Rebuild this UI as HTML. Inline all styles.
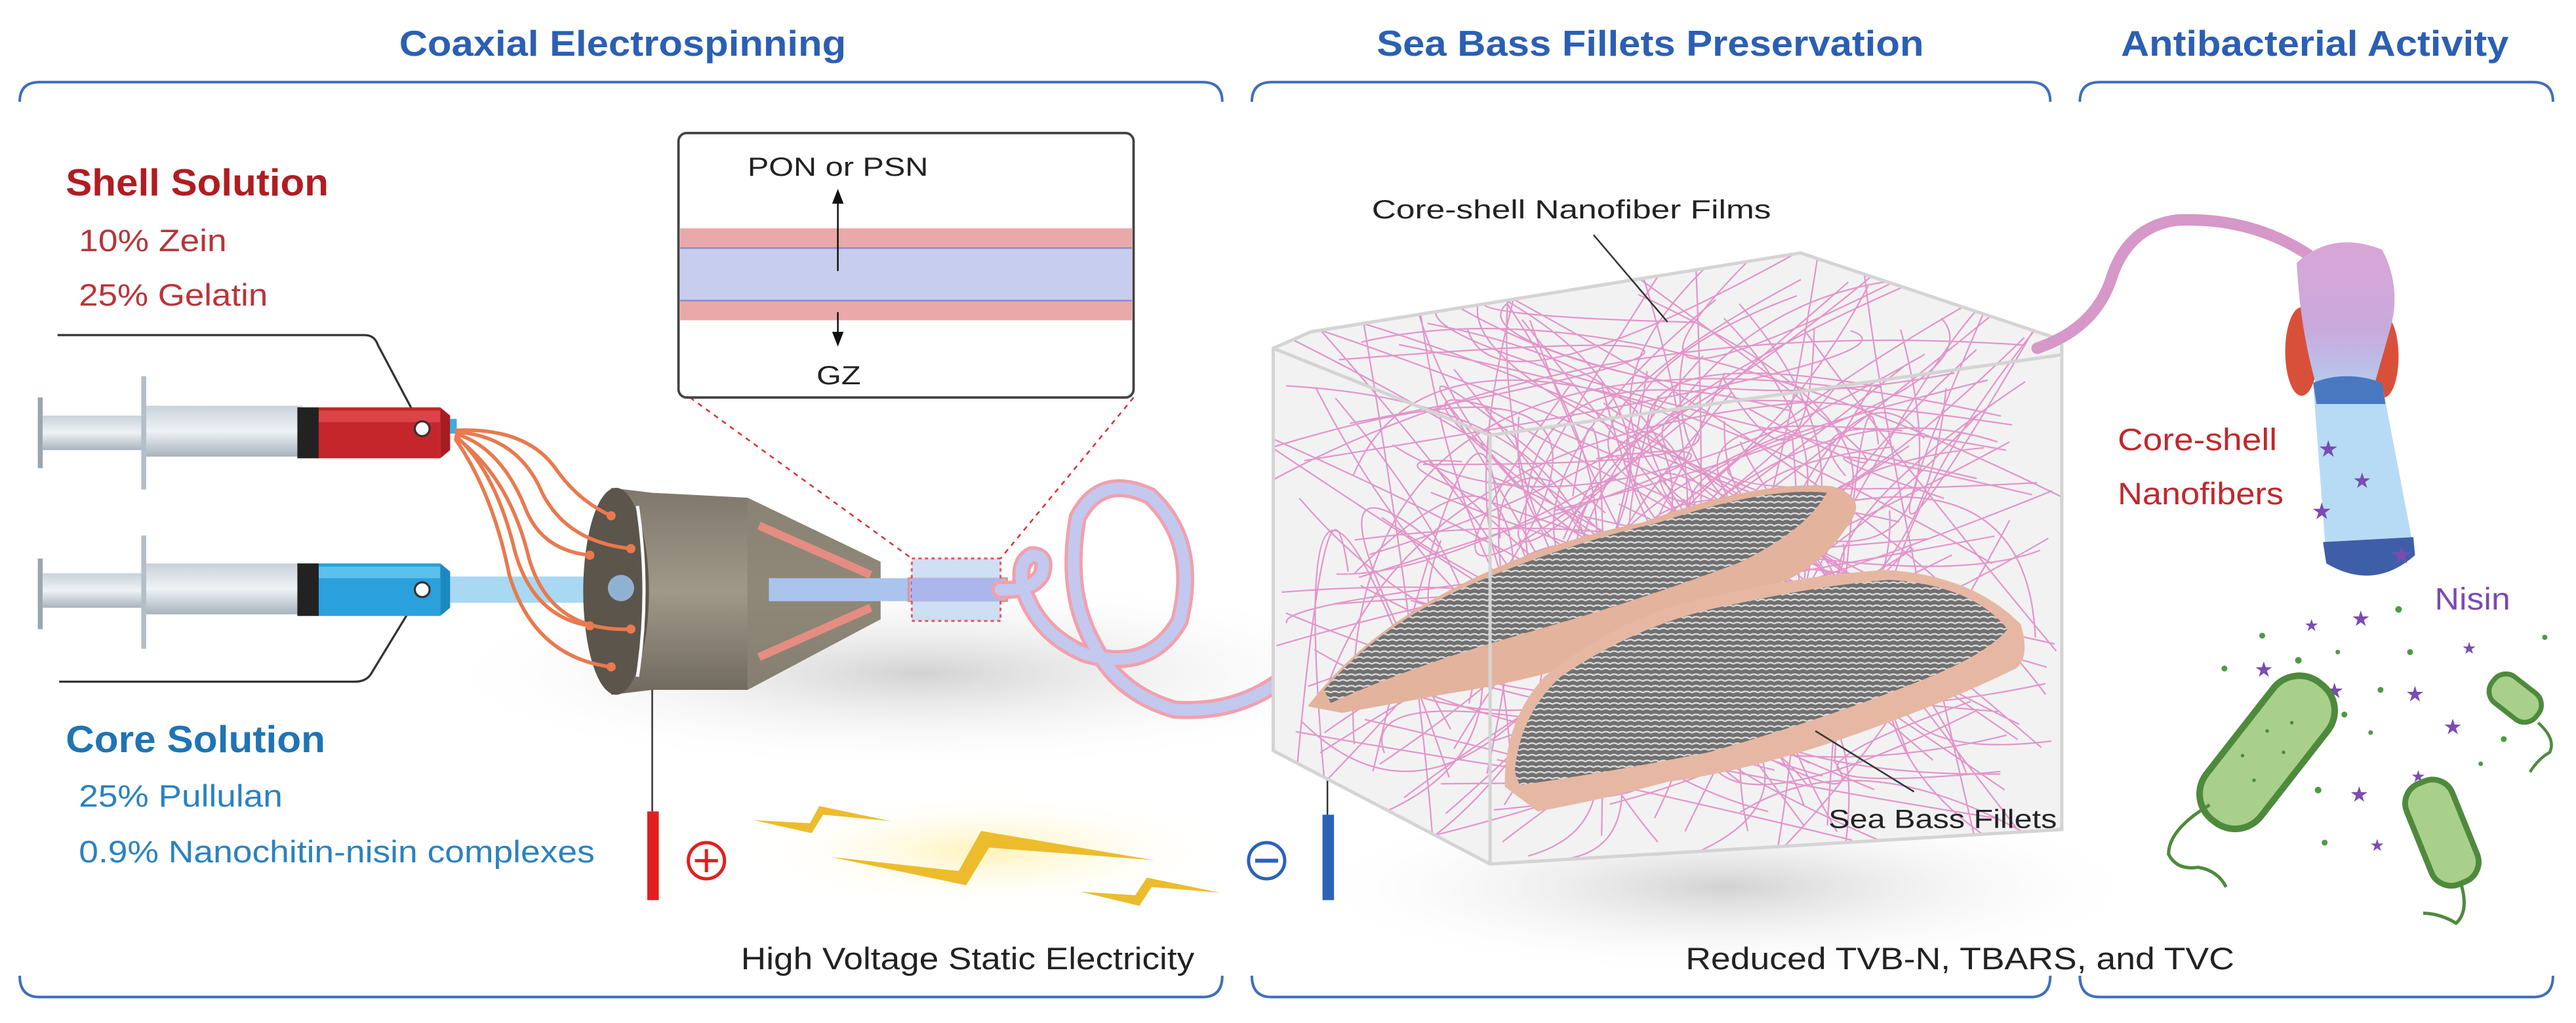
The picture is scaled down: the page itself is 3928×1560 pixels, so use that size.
<!DOCTYPE html>
<html><head><meta charset="utf-8"><style>
html,body{margin:0;padding:0;background:#fff;}
svg{display:block;}
text{font-family:"Liberation Sans",sans-serif;}
</style></head><body>
<svg id="s" width="3928" height="1560" viewBox="0 0 1568 622.8" preserveAspectRatio="none" xmlns="http://www.w3.org/2000/svg">
<defs>
<radialGradient id="shadow" cx="0.5" cy="0.5" r="0.5">
<stop offset="0" stop-color="#cdcdcd" stop-opacity="0.9"/><stop offset="1" stop-color="#fff" stop-opacity="0"/></radialGradient>
<linearGradient id="metal" x1="0" y1="0" x2="0" y2="1"><stop offset="0" stop-color="#7f776b"/><stop offset="0.5" stop-color="#a09888"/><stop offset="1" stop-color="#6f685e"/></linearGradient>
<linearGradient id="syr" x1="0" y1="0" x2="0" y2="1"><stop offset="0" stop-color="#c9d2da"/><stop offset="0.5" stop-color="#eef2f5"/><stop offset="1" stop-color="#a8b3bd"/></linearGradient>
<linearGradient id="nz" x1="0" y1="0" x2="0" y2="1"><stop offset="0" stop-color="#d9a6d6"/><stop offset="0.6" stop-color="#c9a9dc"/><stop offset="1" stop-color="#b4cbee"/></linearGradient>
<radialGradient id="glow" cx="0.5" cy="0.5" r="0.5"><stop offset="0" stop-color="#fff1b0" stop-opacity="0.9"/><stop offset="1" stop-color="#fff" stop-opacity="0"/></radialGradient>
<clipPath id="boxclip"><path d="M775 212 L798 202 L1096 154 L1255 207 L1255 505 L907 526 L775 457 Z"/></clipPath>
<pattern id="scales" width="5" height="3.5" patternUnits="userSpaceOnUse"><rect width="5" height="3.5" fill="#707070"/><path d="M0 1.8 Q2.5 0 5 1.8" stroke="#dedede" stroke-width="0.9" fill="none"/></pattern>
</defs>

<ellipse cx="560" cy="410" rx="300" ry="60" fill="url(#shadow)"/>
<ellipse cx="1050" cy="540" rx="260" ry="55" fill="url(#shadow)"/>

<text x="243" y="34" font-size="22" font-weight="bold" fill="#2b5fb4" textLength="272" lengthAdjust="spacingAndGlyphs">Coaxial Electrospinning</text>
<text x="838" y="34" font-size="22" font-weight="bold" fill="#2b5fb4" textLength="333" lengthAdjust="spacingAndGlyphs">Sea Bass Fillets Preservation</text>
<text x="1291" y="34" font-size="22" font-weight="bold" fill="#2b5fb4" textLength="236" lengthAdjust="spacingAndGlyphs">Antibacterial Activity</text>

<g fill="none" stroke="#3f6fba" stroke-width="1.6">
<path d="M12 62 Q12 50 24 50 L732 50 Q744 50 744 62"/>
<path d="M762 62 Q762 50 774 50 L1236 50 Q1248 50 1248 62"/>
<path d="M1266 62 Q1266 50 1278 50 L1542 50 Q1554 50 1554 62"/>
<path d="M12 594 Q12 607 24 607 L732 607 Q744 607 744 594"/>
<path d="M762 594 Q762 607 774 607 L1236 607 Q1248 607 1248 594"/>
<path d="M1266 594 Q1266 607 1278 607 L1542 607 Q1554 607 1554 594"/>
</g>
<text x="451" y="590" font-size="19" fill="#222" textLength="276" lengthAdjust="spacingAndGlyphs">High Voltage Static Electricity</text>
<text x="1026" y="590" font-size="19" fill="#222" textLength="334" lengthAdjust="spacingAndGlyphs">Reduced TVB-N, TBARS, and TVC</text>

<text x="40" y="119" font-size="23" font-weight="bold" fill="#b11c22" textLength="160" lengthAdjust="spacingAndGlyphs">Shell Solution</text>
<text x="48" y="153" font-size="19" fill="#b9343a" textLength="90" lengthAdjust="spacingAndGlyphs">10% Zein</text>
<text x="48" y="186" font-size="19" fill="#b9343a" textLength="115" lengthAdjust="spacingAndGlyphs">25% Gelatin</text>
<text x="40" y="458" font-size="23" font-weight="bold" fill="#1f74b4" textLength="158" lengthAdjust="spacingAndGlyphs">Core Solution</text>
<text x="48" y="491" font-size="19" fill="#2a82c0" textLength="124" lengthAdjust="spacingAndGlyphs">25% Pullulan</text>
<text x="48" y="525" font-size="19" fill="#2a82c0" textLength="314" lengthAdjust="spacingAndGlyphs">0.9% Nanochitin-nisin complexes</text>
<path d="M35 204 L222 204 Q228 204 230 210 L257 261" fill="none" stroke="#333" stroke-width="1.3"/>
<path d="M257 359 L226 410 Q223 415 216 415 L36 415" fill="none" stroke="#333" stroke-width="1.3"/>

<g>
<rect x="23" y="242" width="3" height="43" fill="#9aa6b0"/>
<rect x="26" y="253" width="62" height="21" fill="url(#syr)"/>
<rect x="86" y="229" width="3" height="69" fill="#b4bec7"/>
<rect x="89" y="247" width="95" height="31" fill="url(#syr)"/>
<rect x="181" y="248" width="13" height="31" fill="#222"/>
<rect x="194" y="248" width="74" height="31" fill="#c4262b"/>
<rect x="194" y="250" width="74" height="7" fill="#dc4449"/>
<path d="M268 248 L274 253 L274 274 L268 279Z" fill="#a81c21"/>
<circle cx="257" cy="261" r="4.5" fill="#fff" stroke="#333" stroke-width="1.3"/>
<rect x="274" y="255" width="4" height="9" fill="#3ab0e0"/>

<rect x="23" y="340" width="3" height="43" fill="#9aa6b0"/>
<rect x="26" y="349" width="62" height="21" fill="url(#syr)"/>
<rect x="86" y="326" width="3" height="69" fill="#b4bec7"/>
<rect x="89" y="343" width="95" height="31" fill="url(#syr)"/>
<rect x="181" y="343" width="13" height="32" fill="#222"/>
<rect x="194" y="343" width="74" height="32" fill="#2aa0dc"/>
<rect x="194" y="345" width="74" height="7" fill="#5cc0ee"/>
<path d="M268 343 L274 348 L274 370 L268 375Z" fill="#1c88c0"/>
<circle cx="257" cy="359" r="4.5" fill="#fff" stroke="#333" stroke-width="1.3"/>
</g>
<rect x="274" y="351" width="90" height="16" fill="#a8d8f2"/>
<path d="M372 297 L397 300 L455 303 L536 342 L536 377 L455 420 L397 420 L372 423 Z" fill="url(#metal)"/>
<path d="M455 303 L536 342 L536 377 L455 420 Z" fill="#8b8476" opacity="0.8"/>
<ellipse cx="375" cy="360" rx="20" ry="63" fill="#5b554c"/>
<path d="M388 308 Q396 360 388 412" fill="none" stroke="#fafafa" stroke-width="2"/>
<ellipse cx="378" cy="358" rx="8" ry="8" fill="#9fc8f5" opacity="0.8"/>
<path d="M462 320 L530 350 M462 400 L530 370" stroke="#e58d82" stroke-width="5"/>
<rect x="468" y="352" width="85" height="14" fill="#aac4ee"/>
<rect x="553" y="352" width="60" height="14" fill="#b0bdee" stroke="#e58d82" stroke-width="1"/>
<g fill="none" stroke="#e87a4e" stroke-width="2.2">
<path d="M277 262 Q320 260 338 285 Q352 305 372 314"/>
<path d="M277 263 Q315 265 330 300 Q345 330 384 334"/>
<path d="M277 264 Q305 272 320 310 Q330 335 359 338"/>
<path d="M277 265 Q300 285 312 330 Q322 375 359 381"/>
<path d="M277 266 Q310 290 322 340 Q335 385 384 383"/>
<path d="M277 267 Q300 300 310 350 Q325 400 372 406"/>
</g>
<g fill="#e87a4e"><circle cx="372" cy="314" r="2.8"/><circle cx="384" cy="334" r="2.8"/><circle cx="359" cy="338" r="2.8"/><circle cx="359" cy="381" r="2.8"/><circle cx="384" cy="383" r="2.8"/><circle cx="372" cy="406" r="2.8"/></g>
<rect x="555" y="340" width="54" height="38" fill="#c4d8f2" opacity="0.8" stroke="#e03030" stroke-width="1.2" stroke-dasharray="2,2"/>
<rect x="555" y="352" width="54" height="14" fill="#aab6ec"/>
<path d="M420 242 L555 340 M690 242 L609 340" stroke="#e03030" stroke-width="1" stroke-dasharray="3,3" fill="none"/>
<g fill="none" stroke-linecap="round">
<path d="M609 359 Q628 360 634 350 Q638 338 628 338 Q620 342 622 355 Q630 385 660 398 Q700 410 718 378 Q730 330 700 302 Q670 288 656 315 Q648 360 665 391 Q680 422 715 432 Q760 435 790 405" stroke="#f2a0ac" stroke-width="11"/>
<path d="M609 359 Q628 360 634 350 Q638 338 628 338 Q620 342 622 355 Q630 385 660 398 Q700 410 718 378 Q730 330 700 302 Q670 288 656 315 Q648 360 665 391 Q680 422 715 432 Q760 435 790 405" stroke="#c3c8ef" stroke-width="7"/>
</g>
<rect x="413" y="81" width="277" height="161" rx="5" fill="#fff" stroke="#444" stroke-width="1.5"/>
<rect x="414" y="139" width="275" height="12" fill="#eaa9a9"/>
<rect x="414" y="151" width="275" height="32" fill="#c7cdec"/>
<rect x="414" y="183" width="275" height="12" fill="#eaa9a9"/>
<line x1="414" y1="151" x2="689" y2="151" stroke="#8e88d6" stroke-width="1"/>
<line x1="414" y1="183" x2="689" y2="183" stroke="#8e88d6" stroke-width="1"/>
<line x1="510" y1="120" x2="510" y2="165" stroke="#111" stroke-width="1"/>
<path d="M506.5 124 L510 115 L513.5 124Z" fill="#111"/>
<line x1="510" y1="190" x2="510" y2="206" stroke="#111" stroke-width="1"/>
<path d="M506.5 202 L510 211 L513.5 202Z" fill="#111"/>
<text x="455" y="107" font-size="16" fill="#222" textLength="110" lengthAdjust="spacingAndGlyphs">PON or PSN</text>
<text x="497" y="234" font-size="16" fill="#222" textLength="27" lengthAdjust="spacingAndGlyphs">GZ</text>

<line x1="397" y1="420" x2="397" y2="494" stroke="#333" stroke-width="1"/>
<rect x="394" y="494" width="7" height="54" fill="#e02020"/>
<circle cx="430" cy="524" r="11" fill="none" stroke="#e02020" stroke-width="2"/>
<path d="M423 524 H437 M430 517 V531" stroke="#e02020" stroke-width="2"/>
<line x1="808" y1="455" x2="808" y2="496" stroke="#333" stroke-width="1"/>
<rect x="805" y="496" width="7" height="52" fill="#2a62b8"/>
<circle cx="771" cy="524" r="11" fill="none" stroke="#2a62b8" stroke-width="2"/>
<path d="M764 524 H778" stroke="#2a62b8" stroke-width="2.4"/>
<ellipse cx="600" cy="518" rx="150" ry="36" fill="url(#glow)"/>
<g fill="#ecbc2c">
<path d="M458.6 499.3 L493 501.2 L498.7 490.7 L542.2 499.9 L501 496 L494.1 507.2 Z"/>
<path d="M505.6 521.7 L583.5 530.3 L597.2 505.9 L702.7 523.7 L602 516 L588.1 538.9 Z"/>
<path d="M658 542.9 L691 545 L698.1 534.3 L742.8 543.5 L701 540 L693.5 551.5 Z"/>
</g>

<path d="M775 212 L798 202 L1096 154 L1255 207 L1255 505 L907 526 L775 457 Z" fill="#f2f2f3"/>
<g clip-path="url(#boxclip)">
<g id="fib" fill="none" stroke="#e08cc4" stroke-width="0.9" opacity="0.9"></g>
<path d="M796 430 Q830 385 889 356 Q940 330 1000 318 Q1070 292 1115 296 Q1135 302 1128 315 Q1110 345 1081 356 Q1030 380 982 398 Q930 415 883 422 Q840 430 817 434 Z" fill="#e3b39d"/>
<path d="M806 420 Q840 380 895 356 Q950 332 1010 318 Q1075 296 1112 300 Q1100 322 1060 342 Q1000 365 930 385 Q860 405 810 428 Z" fill="url(#scales)"/>
<path d="M916 479 Q915 440 940 412 Q990 372 1048 362 Q1100 350 1148 347 Q1200 350 1230 380 Q1236 400 1227 407 Q1180 430 1115 452 Q1060 470 1015 476 Q970 488 936 494 Z" fill="#e6b8a3"/>
<path d="M922 470 Q925 435 950 412 Q1000 378 1055 368 Q1110 356 1150 353 Q1200 356 1222 383 Q1210 398 1170 414 Q1110 438 1040 458 Q980 470 925 478 Z" fill="url(#scales)"/>
</g>
<g fill="none" stroke="#d4d4d4" stroke-width="2">
<path d="M775 212 L798 202 L1096 154 L1255 207 L1255 505 L907 526 L775 457 Z"/>
<path d="M775 212 L907 265 L1255 216 M907 265 L907 526"/>
</g>
<text x="835" y="133" font-size="16" fill="#222" textLength="243" lengthAdjust="spacingAndGlyphs">Core-shell Nanofiber Films</text>
<line x1="970" y1="143" x2="1015" y2="196" stroke="#333" stroke-width="1"/>
<text x="1113" y="504" font-size="16" fill="#222" textLength="139" lengthAdjust="spacingAndGlyphs">Sea Bass Fillets</text>
<line x1="1105" y1="445" x2="1165" y2="482" stroke="#333" stroke-width="1"/>

<path d="M1240 212 Q1275 200 1285 170 Q1295 138 1325 134 Q1370 132 1405 155" fill="none" stroke="#d598c8" stroke-width="7" stroke-linecap="round"/>
<ellipse cx="1401" cy="214" rx="10" ry="27" fill="#d9503a"/>
<ellipse cx="1451" cy="217" rx="9" ry="25" fill="#d9503a"/>
<path d="M1398 160 Q1420 140 1450 152 Q1462 175 1455 200 L1445 235 L1410 235 Q1400 200 1398 160 Z" fill="url(#nz)"/>
<path d="M1408 234 L1450 234 L1470 338 Q1445 360 1416 340 Z" fill="#b8dbf5"/>
<path d="M1408 233 Q1428 225 1450 233 L1452 246 L1410 246 Z" fill="#4a78c0"/>
<path d="M1414 330 L1469 327 L1470 338 Q1445 360 1416 343 Z" fill="#3e5fa8"/>
<g fill="#7a4cb0"><text x="1411" y="278" font-size="14">★</text><text x="1432" y="297" font-size="13">★</text><text x="1407" y="316" font-size="14">★</text><text x="1455" y="343" font-size="15">★</text></g>
<text x="1289" y="274" font-size="19" fill="#c0282e" textLength="97" lengthAdjust="spacingAndGlyphs">Core-shell</text>
<text x="1289" y="307" font-size="19" fill="#c0282e" textLength="101" lengthAdjust="spacingAndGlyphs">Nanofibers</text>
<text x="1482" y="371" font-size="19" fill="#7b4ab0" textLength="46" lengthAdjust="spacingAndGlyphs">Nisin</text>
<g fill="#7a4cb0" font-size="13" text-anchor="middle">
<text x="1407" y="384" font-size="10">★</text><text x="1437" y="381">★</text><text x="1378" y="412">★</text><text x="1421" y="425">★</text><text x="1470" y="427">★</text><text x="1493" y="447">★</text><text x="1503" y="398" font-size="10">★</text><text x="1436" y="488">★</text><text x="1447" y="518" font-size="10">★</text><text x="1472" y="476" font-size="10">★</text>
</g>
<g fill="#4e9a44"><circle cx="1460" cy="371" r="2"/><circle cx="1377" cy="387" r="1.8"/><circle cx="1399" cy="402" r="2"/><circle cx="1354" cy="407" r="1.8"/><circle cx="1423" cy="397" r="1.4"/><circle cx="1467" cy="397" r="1.8"/><circle cx="1449" cy="420" r="1.8"/><circle cx="1427" cy="435" r="1.8"/><circle cx="1524" cy="450" r="1.8"/><circle cx="1549" cy="388" r="1.6"/><circle cx="1411" cy="481" r="2"/><circle cx="1415" cy="513" r="1.8"/><circle cx="1510" cy="465" r="1.4"/><circle cx="1443" cy="446" r="1.4"/></g>
<g transform="rotate(-52 1380 458)"><rect x="1327" y="437" width="106" height="42" rx="20" fill="#a9d08a" stroke="#4e8a3c" stroke-width="4"/></g>
<g fill="#4e8a3c"><circle cx="1365" cy="460" r="1.1"/><circle cx="1380" cy="445" r="1.1"/><circle cx="1395" cy="440" r="1.1"/><circle cx="1372" cy="475" r="1.1"/><circle cx="1390" cy="458" r="1.1"/></g>
<path d="M1345 490 Q1320 505 1320 520 Q1325 530 1338 528 Q1350 530 1355 540" fill="none" stroke="#4e8a3c" stroke-width="2"/>
<g transform="rotate(-22 1486 506)"><rect x="1471" y="474" width="30" height="66" rx="13" fill="#a9d08a" stroke="#4e8a3c" stroke-width="3.5"/></g>
<path d="M1498 538 Q1503 555 1495 562 Q1485 556 1475 556" fill="none" stroke="#4e8a3c" stroke-width="2"/>
<g transform="rotate(38 1531 425)"><rect x="1514" y="415" width="34" height="20" rx="9" fill="#a9d08a" stroke="#4e8a3c" stroke-width="3"/></g>
<path d="M1545 440 Q1556 450 1552 458 Q1545 462 1540 470" fill="none" stroke="#4e8a3c" stroke-width="1.8"/>
</svg>
<script>
(function(){var g=document.getElementById('fib');var s=12345;function r(){s=(s*1103515245+12345)%2147483648;return s/2147483648;}
var d='';for(var i=0;i<170;i++){var x1=770+r()*490,y1=150+r()*380,x2=770+r()*490,y2=150+r()*380,cx=770+r()*490,cy=150+r()*380;d+='M'+x1.toFixed(1)+' '+y1.toFixed(1)+' Q'+cx.toFixed(1)+' '+cy.toFixed(1)+' '+x2.toFixed(1)+' '+y2.toFixed(1)+' ';}
var p=document.createElementNS('http://www.w3.org/2000/svg','path');p.setAttribute('d',d);g.appendChild(p);})();
</script>
</body></html>
